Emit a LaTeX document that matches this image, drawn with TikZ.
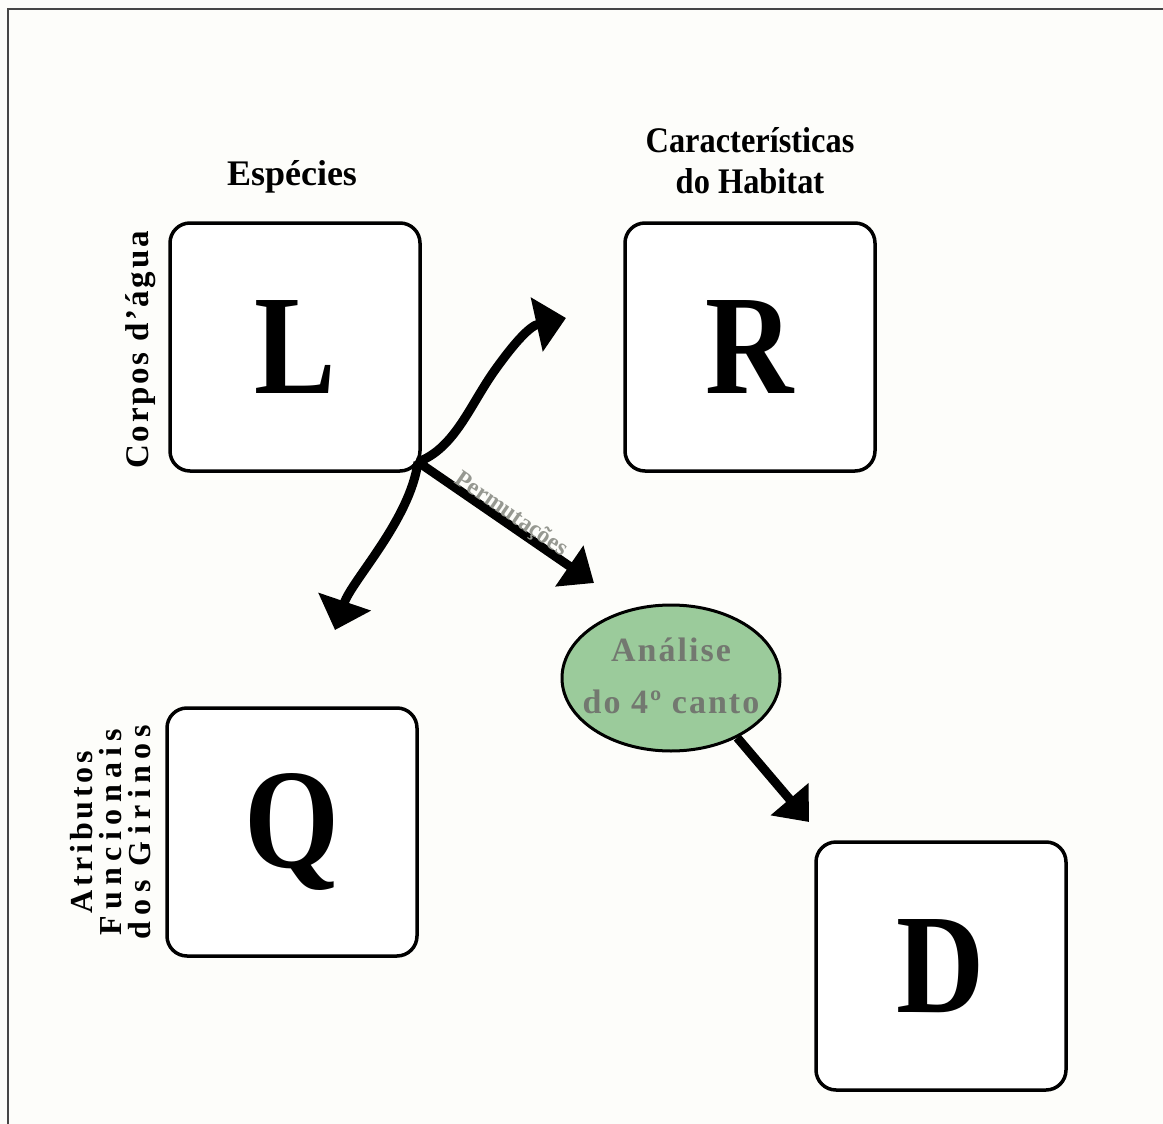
\documentclass[tikz,border=0pt]{standalone}
\usepackage{fontspec}
\setmainfont{Liberation Serif}
\usetikzlibrary{arrows.meta,shapes.geometric}
\definecolor{bg}{RGB}{253,253,250}
\definecolor{frame}{RGB}{70,70,70}
\definecolor{ellfill}{RGB}{155,203,155}
\definecolor{elltext}{RGB}{115,120,112}
\definecolor{permtext}{RGB}{150,152,145}
\newcommand{\cond}[1]{\scalebox{0.86}[1]{#1}}
\newcommand{\hcond}[1]{\scalebox{0.9}[1]{#1}}
\begin{document}
\begin{tikzpicture}[x=1pt,y=-1pt,
  box/.style={draw=black, line width=3.5pt, rounded corners=20pt, minimum width=250pt, minimum height=248pt, inner sep=0pt, fill=white,
    font=\bfseries\fontsize{142}{150}\selectfont},
  head/.style={font=\bfseries\fontsize{36}{40}\selectfont, inner sep=0pt, anchor=base},
  side/.style={font=\bfseries\fontsize{33}{29}\selectfont, inner sep=0pt, rotate=90, anchor=base},
  arr/.style={line width=9pt, draw=black},
  bigtip/.style={-{Triangle[length=30pt,width=54pt]}}
]
\useasboundingbox (0,0) rectangle (1163,1124);
\fill[bg] (0,0) rectangle (1163,1124);
\draw[frame, line width=2.2pt] (8,1124) -- (8,9) -- (1163,9);

% boxes
\node[box] (L) at (295,347) {\cond{L}};
\node[box] (R) at (750,347) {\cond{R}};
\node[box] (Q) at (292,832) {\cond{Q}};
\node[box] (D) at (941,966) {\cond{D}};

% headings
\node[head] (esp) at (292,185) {Espécies};
\node[head] (car1) at (750,152) {\hcond{Características}};
\node[head] (car2) at (750,193) {\hcond{do Habitat}};

% side labels
\node[side, font=\bfseries\addfontfeatures{LetterSpace=8}\fontsize{33}{29}\selectfont] (corpos) at (148,350) {Corpos d’água};
\node[side, font=\bfseries\addfontfeatures{LetterSpace=12}\fontsize{32}{29}\selectfont] (attr1) at (92,832) {Atributos};
\node[side, font=\bfseries\addfontfeatures{LetterSpace=20}\fontsize{32}{29}\selectfont] (attr2) at (121,832) {Funcionais};
\node[side, font=\bfseries\addfontfeatures{LetterSpace=20}\fontsize{32}{29}\selectfont] (attr3) at (150,832) {dos Girinos};

% ellipse
\node[ellipse, draw=black, line width=3pt, fill=ellfill, minimum width=218pt, minimum height=146pt, inner sep=0pt] (ell) at (671,678) {};
\node[align=center, inner sep=0pt, text=elltext, font=\bfseries\addfontfeatures{LetterSpace=6}\fontsize{34}{52}\selectfont] (elltxt) at (671,676)
  {Análise\\do 4º canto};

% arrows
\coordinate (hub) at (418,462);
\coordinate (rtip) at (566,318);
\coordinate (qtip) at (335,630);
\coordinate (ptip) at (594,583);
\coordinate (dtip) at (809,822);

\draw[arr, bigtip] (hub) .. controls (455,448) and (470,405) .. (495,370) .. controls (515,342) and (530,326) .. (rtip);
\draw[arr, bigtip] (hub) .. controls (410,520) and (352,580) .. (qtip);
\draw[arr, -{Triangle[length=30pt,width=48pt]}] (hub) -- node[sloped, above=-6pt, inner sep=0pt, text=permtext,
  font=\bfseries\fontsize{24}{26}\selectfont] (perm) {Permutações} (ptip);
\draw[arr, -{Triangle[length=30pt,width=48pt]}] (ell.-42) -- (dtip);
\end{tikzpicture}
\end{document}
